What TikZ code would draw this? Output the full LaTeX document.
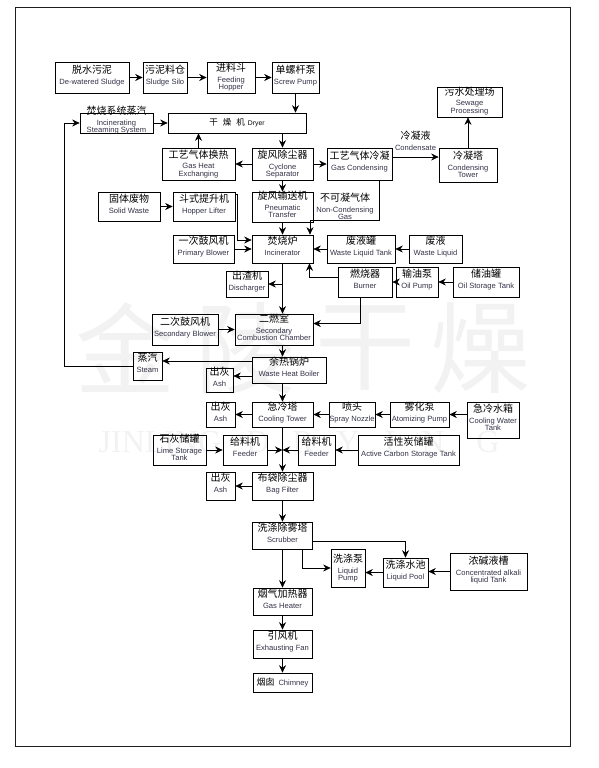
\documentclass[tikz,border=0pt]{standalone}
\usepackage{fontspec}
\setmainfont{Liberation Sans}
\newfontfamily\cjk{Noto Sans CJK SC}
\newfontfamily\wmserif{Liberation Serif}
\usetikzlibrary{arrows.meta}
\definecolor{FrameBlack}{RGB}{30,30,30}
\definecolor{EnBlue}{RGB}{50,50,72}
\definecolor{MarkGray}{RGB}{242,242,242}
\newcommand{\zhsz}{\cjk\fontsize{10}{12}\selectfont}
\newcommand{\ensz}{\color{EnBlue}\fontsize{7.6}{8}\selectfont}
% two-language label, centred on the node, box size set by the node
\newcommand{\tx}[3][2pt]{\raisebox{\dimexpr(\depth-\height)/2+#1\relax}[0pt][0pt]{%
  \ensz\def\arraystretch{0.8}\begin{tabular}{@{}c@{}}{\zhsz\color{black}#2}\\[3.5pt]#3\end{tabular}}}

\begin{document}
\begin{tikzpicture}[x=1pt,y=-1pt,>={Stealth[length=7.5pt,width=7pt,inset=2.5pt]},
    unit/.style={draw,line width=0.7pt,inner sep=0pt},
    sz/.style 2 args={minimum width=#1pt,minimum height=#2pt},
    flow/.style={->,line width=0.7pt},
    wmark/.style={text=MarkGray,inner sep=0pt}]
  \useasboundingbox (0,0) rectangle (598,768);
  % watermark
  \foreach \ch/\xx [count=\i] in {金/125,陵/245,干/365,燥/480}
    \node[wmark,font=\cjk\fontsize{100}{100}\selectfont] (wz\i) at (\xx,348) {\ch};
  \node[wmark,font=\wmserif\fontsize{32}{32}\selectfont] (wjin) at (160,442) {JINLING};
  \foreach \ch/\xx [count=\i] in {D/258,R/303,Y/348,I/390,N/433,G/488}
    \node[wmark,font=\wmserif\fontsize{32}{32}\selectfont] (wd\i) at (\xx,442) {\ch};
  \draw[line width=0.9pt,FrameBlack] (15,7) rectangle (570,746);

  % sludge feed and drying
  \node[unit,sz={74}{31}] (dws) at (92,77.5) {\tx{脱水污泥}{De-watered Sludge}};
  \node[unit,sz={44}{31}] (silo) at (165,77.5) {\tx{污泥料仓}{Sludge Silo}};
  \node[unit,sz={48}{31}] (hopper) at (231,77.5) {\tx[0pt]{进料斗}{Feeding\\Hopper}};
  \node[unit,sz={47}{31}] (screw) at (295.5,77.5) {\tx{单螺杆泵}{Screw Pump}};
  \node[unit,sz={73}{20}] (steamsys) at (116.5,123) {\tx[3pt]{焚烧系统蒸汽}{Incinerating\\Steaming System}};
  \node[unit,sz={138}{20}] (dryer) at (237,123) {{\cjk\fontsize{8.5}{10}\selectfont 干\hspace{5pt}燥\hspace{5pt}机}\hspace{3pt}{\fontsize{6.8}{8}\selectfont Dryer}};
  \node[unit,sz={73}{32}] (gasex) at (198.5,164) {\tx[0pt]{工艺气体换热}{Gas Heat\\Exchanging}};
  \node[unit,sz={61}{32}] (cyc) at (282.5,164) {\tx[0pt]{旋风除尘器}{Cyclone\\Separator}};
  \node[unit,sz={65}{32}] (gcond) at (359.5,164) {\tx{工艺气体冷凝}{Gas Condensing}};
  \node[unit,sz={58}{34}] (ctower) at (468,165) {\tx[0pt]{冷凝塔}{Condensing\\Tower}};
  \node[unit,sz={65}{30}] (sewage) at (469.5,102) {\tx[1pt]{污水处理场}{Sewage\\Processing}};

  % incinerator
  \node[unit,sz={62}{29}] (solid) at (129,206.5) {\tx{固体废物}{Solid Waste}};
  \node[unit,sz={62}{29}] (lifter) at (204,206.5) {\tx{斗式提升机}{Hopper Lifter}};
  \node[unit,sz={61}{30}] (pneu) at (282.5,207) {\tx[2pt]{旋风输送机}{Pneumatic\\Transfer}};
  \node (ncg) at (345,207) {\tx[0pt]{不可凝气体}{Non-Condensing\\Gas}};
  \node[unit,sz={61}{28}] (blower1) at (203.5,249) {\tx{一次鼓风机}{Primary Blower}};
  \node[unit,sz={61}{28}] (incin) at (282.5,249) {\tx{焚烧炉}{Incinerator}};
  \node[unit,sz={68}{28}] (wlt) at (361,249) {\tx{废液罐}{Waste Liquid Tank}};
  \node[unit,sz={53}{28}] (wl) at (435.5,249) {\tx{废液}{Waste Liquid}};
  \node[unit,sz={42}{26}] (disch) at (247,284) {\tx{出渣机}{Discharger}};
  \node[unit,sz={54}{30}] (burner) at (365,282) {\tx{燃烧器}{Burner}};
  \node[unit,sz={42}{30}] (oilpump) at (417,282) {\tx{输油泵}{Oil Pump}};
  \node[unit,sz={66}{30}] (oiltank) at (486,282) {\tx{储油罐}{Oil Storage Tank}};
  \node[unit,sz={66}{31}] (blower2) at (185,329.5) {\tx{二次鼓风机}{Secondary Blower}};
  \node[unit,sz={78}{31}] (chamber) at (274,329.5) {\tx[1pt]{二燃室}{Secondary\\Combustion Chamber}};

  % gas cleaning
  \node[unit,sz={29}{28}] (steam) at (147.5,366) {\tx{蒸汽}{Steam}};
  \node[unit,sz={27}{24}] (ash1) at (219.5,380) {\tx{出灰}{Ash}};
  \node[unit,sz={74}{26}] (boiler) at (289,370) {\tx{余热锅炉}{Waste Heat Boiler}};
  \node[unit,sz={29}{25}] (ash2) at (220.5,414.5) {\tx{出灰}{Ash}};
  \node[unit,sz={61}{25}] (ctw) at (282.5,414.5) {\tx{急冷塔}{Cooling Tower}};
  \node[unit,sz={46}{25}] (nozzle) at (352,414.5) {\tx{喷头}{Spray Nozzle}};
  \node[unit,sz={59}{25}] (atom) at (419.5,414.5) {\tx{雾化泵}{Atomizing Pump}};
  \node[unit,sz={52}{36}] (cwtank) at (493,420) {\tx[2pt]{急冷水箱}{Cooling Water\\Tank}};
  \node[unit,sz={53}{30}] (lime) at (179.5,450) {\tx[2pt]{石灰储罐}{Lime Storage\\Tank}};
  \node[unit,sz={44}{30}] (feed1) at (245,450) {\tx{给料机}{Feeder}};
  \node[unit,sz={37}{30}] (feed2) at (316.5,450) {\tx{给料机}{Feeder}};
  \node[unit,sz={101}{30}] (carbon) at (408.5,450) {\tx{活性炭储罐}{Active Carbon Storage Tank}};
  \node[unit,sz={29}{28}] (ash3) at (220.5,486) {\tx{出灰}{Ash}};
  \node[unit,sz={61}{28}] (bagf) at (282.5,486) {\tx{布袋除尘器}{Bag Filter}};
  \node[unit,sz={60}{27}] (scrub) at (282.5,535.5) {\tx{洗涤除雾塔}{Scrubber}};
  \node[unit,sz={34}{38}] (lpump) at (348,568) {\tx[0pt]{洗涤泵}{Liquid\\Pump}};
  \node[unit,sz={45}{29}] (lpool) at (405.5,572.5) {\tx{洗涤水池}{Liquid Pool}};
  \node[unit,sz={77}{37}] (alkali) at (488.5,571.5) {\tx[1pt]{浓碱液槽}{Concentrated alkali\\liquid Tank}};
  \node[unit,sz={59}{27}] (gheat) at (282.5,601.5) {\tx{烟气加热器}{Gas Heater}};
  \node[unit,sz={59}{28}] (fan) at (282.5,644) {\tx{引风机}{Exhausting Fan}};
  \node[unit,sz={59}{19}] (chim) at (282.5,682.5) {{\cjk\fontsize{9}{10}\selectfont 烟囱}\hspace{4pt}{\ensz Chimney}};

  % connectors
  \draw[flow] (dws) -- (silo);
  \draw[flow] (silo) -- (hopper);
  \draw[flow] (hopper) -- (screw);
  \draw[flow] (screw) -- (screw |- dryer.north);
  \draw[flow] (steamsys) -- (dryer);
  \draw[flow] (dryer.south -| cyc) -- (cyc);
  \draw[flow] (gasex) -- (gasex |- dryer.south);
  \draw[flow] (cyc) -- (gasex);
  \draw[flow] (cyc) -- (gcond);
  \draw[flow] ([yshift=7pt]gcond.east) -- ([yshift=7pt]gcond.east -| ctower.west)
    node[midway,yshift=15pt] (cond) {\tx[0pt]{冷凝液}{Condensate}};
  \draw[flow] (ctower) -- (ctower |- sewage.south);
  \draw[flow] (solid) -- (lifter);
  \draw[flow] (cyc) -- (pneu);
  \draw[flow] (pneu) -- (incin);
  \draw[flow] ([xshift=19.5pt]gcond.south) -- ++(0,40) -| ([xshift=27.5pt]incin.north);
  \draw[flow] ([yshift=-3pt]lifter.north east) -- ++(2,0) |- ([yshift=9pt]incin.west);
  \draw[flow] (blower1) -- (incin);
  \draw[flow] (wl) -- (wlt);
  \draw[flow] (wlt) -- (incin);
  \draw[flow] (oiltank) -- (oilpump);
  \draw[flow] (oilpump) -- (burner);
  \draw[flow] ([yshift=5pt]burner.west) -| ([xshift=27pt]incin.south);
  \draw[flow] (incin) -- (incin |- chamber.north);
  \draw[flow] (incin.south |- disch) -- (disch);
  \draw[flow] ([xshift=-5pt]burner.south) |- ([yshift=6pt]chamber.east);
  \draw[flow] (blower2) -- (chamber);
  \draw[flow] (incin.south |- chamber.south) -- (incin.south |- boiler.north);
  \draw[flow] ([yshift=9pt]boiler.west) -- ([yshift=9pt]boiler.west -| steam.east);
  \draw[flow] ([yshift=-6pt]boiler.west) -- ([yshift=-6pt]boiler.west -| ash1.east);
  \draw[flow] (steam.west) -- ++(-68,0) |- (steamsys.west);
  \draw[flow] (incin.south |- boiler.south) -- (ctw);
  \draw[flow] (cwtank.west |- atom) -- (atom);
  \draw[flow] (atom) -- (nozzle);
  \draw[flow] (nozzle) -- (ctw);
  \draw[flow] (ctw) -- (ash2);
  \draw[flow] (lime) -- (feed1);
  \draw[flow] (carbon) -- (feed2);
  \draw[flow] (feed1) -- (feed1 -| ctw);
  \draw[flow] (feed2) -- (feed2 -| ctw);
  \draw[flow] (ctw) -- (bagf);
  \draw[flow] (bagf) -- (ash3);
  \draw[flow] (bagf) -- (scrub);
  \draw[flow] ([yshift=-6pt]scrub.east) -| (lpool.north);
  \draw[flow] ([xshift=20pt]scrub.south) |- (lpump.west);
  \draw[flow] (lpool) -- (lpool -| lpump.east);
  \draw[flow] (alkali) -- (alkali -| lpool.east);
  \draw[flow] (scrub) -- (gheat);
  \draw[flow] (gheat) -- (fan);
  \draw[flow] (fan) -- (chim);
\end{tikzpicture}
\end{document}
